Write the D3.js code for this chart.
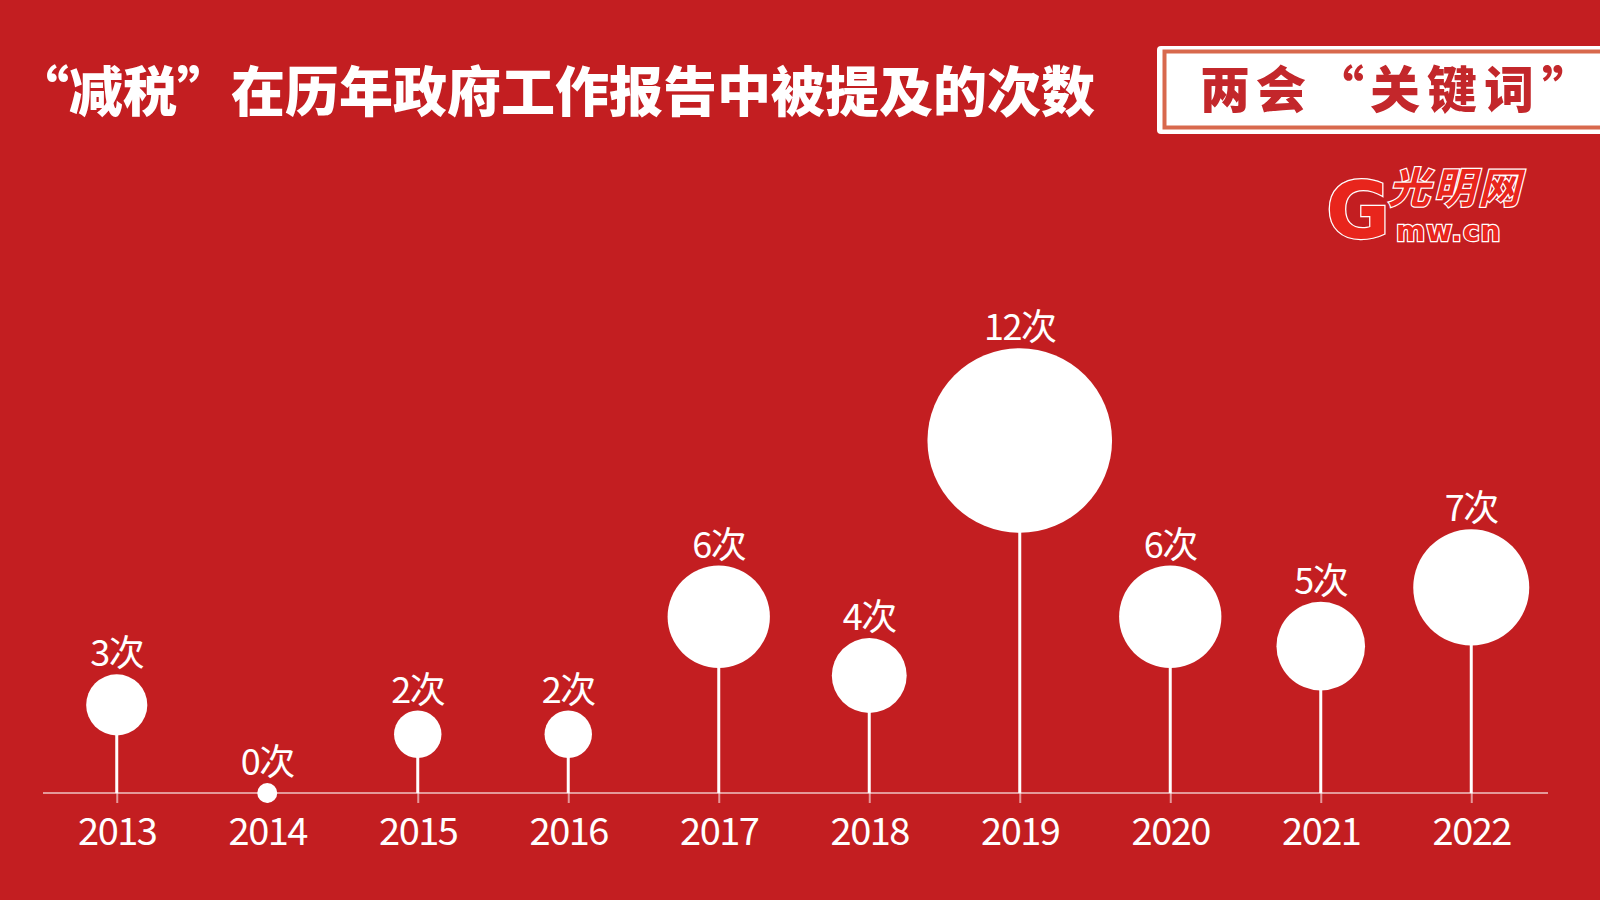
<!DOCTYPE html>
<html><head><meta charset="utf-8">
<script src="https://cdn.jsdelivr.net/npm/d3@7"></script>
<style>
html,body{margin:0;padding:0;background:#c31e21;}
svg{display:block;}
</style></head>
<body>
<svg id="chart" width="1600" height="900"></svg>
<script>
const years = ["2013","2014","2015","2016","2017","2018","2019","2020","2021","2022"];
const counts = [3,0,2,2,6,4,12,6,5,7];
const unit = "次";
const titleText = "“减税”在历年政府工作报告中被提及的次数";
const badgeChars = ["两","会","“","关","键","词","”"];

const bg = "#c31e21";
const svg = d3.select("#chart");
svg.append("rect").attr("width",1600).attr("height",900).attr("fill",bg);

const axisY = 793;
const x = d3.scalePoint().domain(years).range([43,1545]).padding(0.49);
const y = d3.scaleLinear().domain([0,12]).range([axisY, 440.5]);
const r = d3.scaleLinear().domain([0,12]).range([10, 92.3]);

// title
svg.append("text").attr("x",15).attr("y",112)
  .attr("font-family","'Noto Sans CJK SC', sans-serif").attr("font-weight",900)
  .attr("font-size",54).attr("fill","#fff").text(titleText);

// badge
svg.append("rect").attr("x",1157).attr("y",46).attr("width",480).attr("height",88)
  .attr("rx",4).attr("fill","#fff");
svg.append("rect").attr("x",1164.5).attr("y",51.5).attr("width",470).attr("height",76)
  .attr("fill","#fff").attr("stroke","#d8694d").attr("stroke-width",4);
const badgeX = [1200,1256,1314,1370,1427,1484,1542];
svg.append("text").attr("x",badgeX.join(" ")).attr("y",108)
  .attr("font-family","'Noto Sans CJK SC', sans-serif").attr("font-weight",900)
  .attr("font-size",50).attr("fill","#c3272b").text(badgeChars.join(""));

// logo (approximation)
const logo = svg.append("g");
logo.append("text").attr("x",1326).attr("y",238)
  .attr("font-family","'DejaVu Sans', sans-serif").attr("font-weight",700)
  .attr("font-size",78).attr("fill","#e8251c").attr("stroke","#fff").attr("stroke-width",2.5)
  .attr("paint-order","stroke").text("G");
logo.append("text").attr("x",1388).attr("y",203)
  .attr("font-family","'Noto Sans CJK SC', sans-serif").attr("font-weight",700)
  .attr("font-style","italic").attr("font-size",42).attr("letter-spacing",3)
  .attr("fill","#e8251c").attr("stroke","#fff").attr("stroke-width",2.5)
  .attr("paint-order","stroke").text("光明网");
logo.append("text").attr("x",1396).attr("y",241)
  .attr("font-family","'DejaVu Sans', sans-serif").attr("font-weight",700)
  .attr("font-size",28).attr("letter-spacing",1).attr("fill","#e8251c").attr("stroke","#fff").attr("stroke-width",2.5)
  .attr("paint-order","stroke").text("mw.cn");

// axis
const axisG = svg.append("g").attr("transform",`translate(0,${axisY})`)
  .call(d3.axisBottom(x).tickSize(10).tickSizeOuter(0));
axisG.select(".domain").attr("d","M43,0H1548")
  .attr("stroke","rgba(255,255,255,0.55)").attr("stroke-width",2);
axisG.selectAll(".tick line").attr("stroke","rgba(255,255,255,0.55)").attr("stroke-width",2);
axisG.selectAll(".tick text").attr("y",52).attr("dy",null)
  .attr("fill","#fff").attr("font-size",38).attr("letter-spacing",-1.5)
  .attr("font-family","'Noto Sans CJK SC', 'Noto Sans', sans-serif");

const data = years.map((yr,i)=>({year:yr,count:counts[i]}));

// stems
svg.append("g").selectAll("line").data(data).join("line")
  .attr("x1",d=>x(d.year)).attr("x2",d=>x(d.year))
  .attr("y1",axisY).attr("y2",d=>y(d.count))
  .attr("stroke","#fff").attr("stroke-width",3);

// circles
svg.append("g").selectAll("circle").data(data).join("circle")
  .attr("cx",d=>x(d.year)).attr("cy",d=>y(d.count)).attr("r",d=>r(d.count))
  .attr("fill","#fff");

// labels
svg.append("g").selectAll("text").data(data).join("text")
  .attr("x",d=>x(d.year)).attr("y",d=>y(d.count)-r(d.count)-8)
  .attr("text-anchor","middle").attr("fill","#fff")
  .attr("font-size",36).attr("letter-spacing",-1.5)
  .attr("font-family","'Noto Sans CJK SC', 'Noto Sans', sans-serif")
  .text(d=>d.count+unit);
</script>
</body></html>
